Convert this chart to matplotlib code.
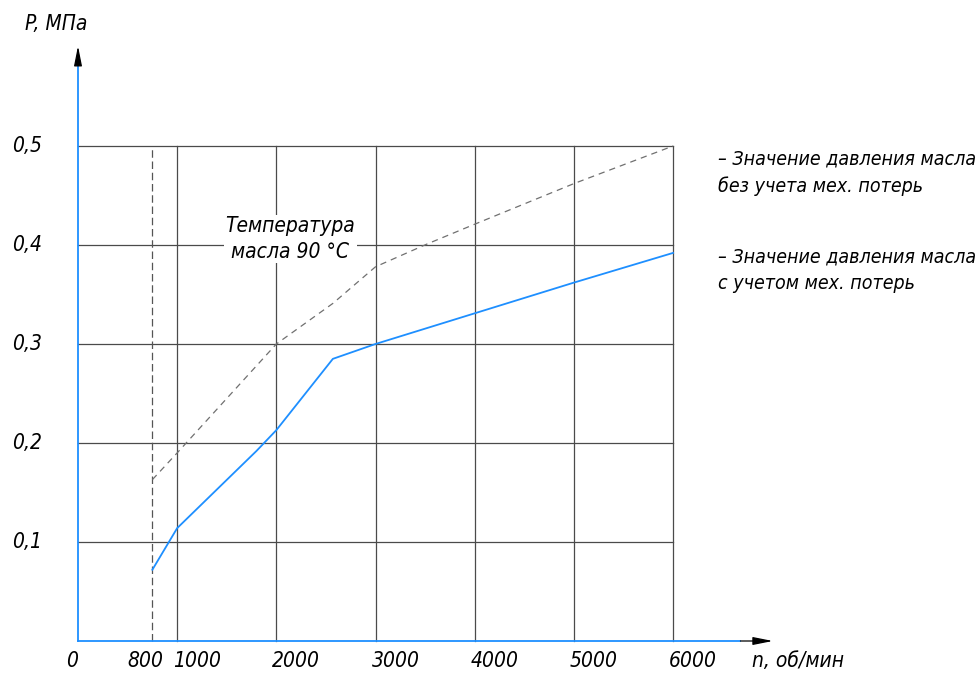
import matplotlib
matplotlib.use("Agg")
import matplotlib.pyplot as plt

plt.rcParams['font.family'] = ['DejaVu Sans']
plt.rcParams['font.style'] = 'italic'
plt.rcParams['font.stretch'] = 'condensed'

# readings: oil pressure vs shaft speed (x read against the 1000-step grid)
rpm_no_loss = [750, 1000, 2000, 2570, 3000, 3520, 4000, 5000, 6000]
p_no_loss = [0.163, 0.190, 0.300, 0.341, 0.378, 0.401, 0.421, 0.462, 0.500]
rpm_loss = [750, 1000, 1800, 2000, 2570, 3000, 4000, 5000, 6000]
p_loss = [0.072, 0.114, 0.192, 0.213, 0.285, 0.300, 0.331, 0.362, 0.392]

x_grid = [1000, 2000, 3000, 4000, 5000, 6000]
y_grid = [0.1, 0.2, 0.3, 0.4, 0.5]
y_labels = ['0,1', '0,2', '0,3', '0,4', '0,5']
x_labels = ['1000', '2000', '3000', '4000', '5000', '6000']
start_rpm = 750
start_label = '800'

blue = '#1e8fff'
grid_c = '#4a4a4a'

fig = plt.figure(figsize=(9.8, 6.73), dpi=100)
ax = fig.add_axes([0, 0, 1, 1])
# pixel mapping: x=0 at px 78, 1000 rpm per 99.17 px; y=0 at px 641, 0.1 per 99 px
ax.set_xlim(-78 / 99.17 * 1000, (980 - 78) / 99.17 * 1000)
ax.set_ylim(-(673 - 641) / 990, 641 / 990)
ax.axis('off')

# grid
for x in x_grid:
    ax.plot([x, x], [0, 0.5], color=grid_c, lw=0.9, zorder=1)
for y in y_grid:
    ax.plot([0, 6000], [y, y], color=grid_c, lw=0.9, zorder=1)
ax.plot([start_rpm, start_rpm], [0, 0.5], color='#555555', lw=0.9, dashes=(6, 3), zorder=1)

# axes with arrows
arrow = dict(arrowstyle='-|>,head_length=0.6,head_width=0.12', color='black',
             lw=0.9, mutation_scale=20, shrinkA=0, shrinkB=0)
ax.plot([0, 6680], [0, 0], color=blue, lw=1.3, zorder=3)
ax.plot([0, 0], [0, 0.585], color=blue, lw=1.3, zorder=3)
ax.annotate('', xy=(7006, 0), xytext=(6680, 0), arrowprops=arrow, zorder=4)
ax.annotate('', xy=(0, 0.601), xytext=(0, 0.582), arrowprops=arrow, zorder=4)

# data lines
ax.plot(rpm_no_loss, p_no_loss, color='#707070', lw=0.9, dashes=(5, 4), zorder=2)
ax.plot(rpm_loss, p_loss, color=blue, lw=1.3, zorder=2)

fs = 15
for y, lab in zip(y_grid, y_labels):
    ax.text(-666, y, lab, fontsize=fs, ha='left', va='center')
for x, lab in zip(x_grid, x_labels):
    ax.text(x - 40, -0.02, lab, fontsize=fs, ha='left', va='center')
ax.text(start_rpm - 70, -0.02, start_label, fontsize=fs, ha='center', va='center')
ax.text(-60, -0.02, '0', fontsize=fs, ha='center', va='center')
ax.text(6794, -0.02, 'n, об/мин', fontsize=fs, ha='left', va='center')
ax.text(-534, 0.623, 'P, МПа', fontsize=fs, ha='left', va='center')

ax.text(2140, 0.406, 'Температура\nмасла 90 °С', fontsize=fs, ha='center',
        va='center', linespacing=1.35, zorder=5,
        bbox=dict(facecolor='white', edgecolor='none', pad=1))

ax.text(6452, 0.473, '– Значение давления масла\nбез учета мех. потерь',
        fontsize=fs - 1, ha='left', va='center', linespacing=1.5)
ax.text(6452, 0.374, '– Значение давления масла\nс учетом мех. потерь',
        fontsize=fs - 1, ha='left', va='center', linespacing=1.5)

fig.savefig('out.png', dpi=100)
